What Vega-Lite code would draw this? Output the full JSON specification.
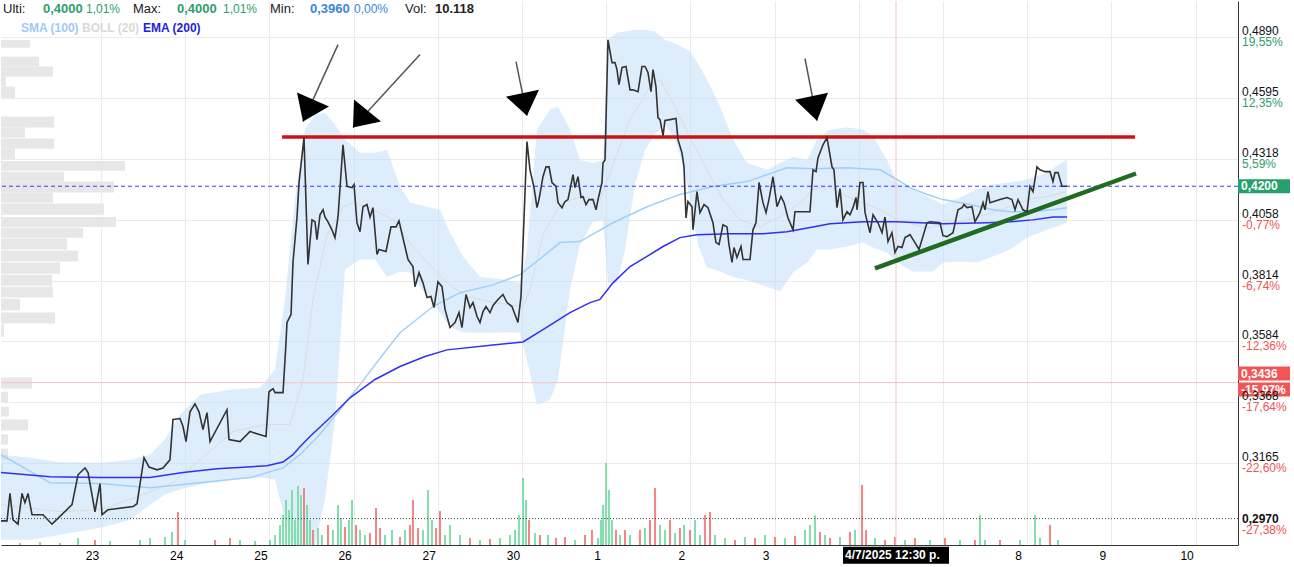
{
"$schema": "https://vega.github.io/schema/vega-lite/v6.json",
"width": 1237, "height": 544,
"autosize": {"type": "none"},
"padding": {"left": 1, "top": 1, "right": 56, "bottom": 22},
"background": "white",
"config": {"view": {"stroke": null}, "font": "Liberation Sans", "axis": {"labelFont": "Liberation Sans"}},
"datasets": {
"price": [{"t":-1.188,"p":0.2983},{"t":-1.116,"p":0.2983},{"t":-1.081,"p":0.3068},{"t":-1.045,"p":0.2986},{"t":-0.986,"p":0.2973},{"t":-0.938,"p":0.3068},{"t":-0.903,"p":0.3039},{"t":-0.867,"p":0.3068},{"t":-0.819,"p":0.3002},{"t":-0.689,"p":0.3002},{"t":-0.582,"p":0.2973},{"t":-0.344,"p":0.3033},{"t":-0.273,"p":0.3127},{"t":-0.19,"p":0.3149},{"t":-0.154,"p":0.3134},{"t":-0.071,"p":0.3011},{"t":-0.012,"p":0.3099},{"t":0.012,"p":0.3002},{"t":0.083,"p":0.3017},{"t":0.38,"p":0.3027},{"t":0.428,"p":0.3036},{"t":0.511,"p":0.3182},{"t":0.57,"p":0.3152},{"t":0.665,"p":0.3143},{"t":0.736,"p":0.3149},{"t":0.819,"p":0.3175},{"t":0.855,"p":0.3309},{"t":0.938,"p":0.3312},{"t":0.974,"p":0.3285},{"t":1.01,"p":0.3235},{"t":1.057,"p":0.3335},{"t":1.116,"p":0.3362},{"t":1.164,"p":0.3335},{"t":1.211,"p":0.3275},{"t":1.259,"p":0.3332},{"t":1.295,"p":0.3235},{"t":1.496,"p":0.3342},{"t":1.52,"p":0.3242},{"t":1.651,"p":0.3235},{"t":1.77,"p":0.3269},{"t":1.805,"p":0.3265},{"t":1.96,"p":0.3252},{"t":1.995,"p":0.3404},{"t":2.043,"p":0.3415},{"t":2.067,"p":0.3401},{"t":2.162,"p":0.3401},{"t":2.197,"p":0.3578},{"t":2.209,"p":0.3654},{"t":2.257,"p":0.3684},{"t":2.28,"p":0.3885},{"t":2.328,"p":0.407},{"t":2.352,"p":0.4216},{"t":2.411,"p":0.4414},{"t":2.458,"p":0.3877},{"t":2.506,"p":0.4058},{"t":2.542,"p":0.405},{"t":2.565,"p":0.3977},{"t":2.601,"p":0.4079},{"t":2.637,"p":0.41},{"t":2.66,"p":0.407},{"t":2.696,"p":0.405},{"t":2.743,"p":0.4017},{"t":2.779,"p":0.3985},{"t":2.815,"p":0.407},{"t":2.874,"p":0.4382},{"t":2.922,"p":0.4199},{"t":2.981,"p":0.4194},{"t":3.005,"p":0.4207},{"t":3.04,"p":0.4046},{"t":3.076,"p":0.4009},{"t":3.112,"p":0.4113},{"t":3.159,"p":0.4122},{"t":3.195,"p":0.407},{"t":3.23,"p":0.4109},{"t":3.278,"p":0.3917},{"t":3.302,"p":0.3937},{"t":3.385,"p":0.3929},{"t":3.444,"p":0.4029},{"t":3.504,"p":0.4029},{"t":3.539,"p":0.4054},{"t":3.599,"p":0.3965},{"t":3.646,"p":0.3897},{"t":3.705,"p":0.3869},{"t":3.729,"p":0.379},{"t":3.777,"p":0.3845},{"t":3.824,"p":0.3805},{"t":3.872,"p":0.3748},{"t":3.919,"p":0.3752},{"t":3.955,"p":0.371},{"t":4.002,"p":0.3809},{"t":4.05,"p":0.379},{"t":4.086,"p":0.3703},{"t":4.145,"p":0.3635},{"t":4.204,"p":0.3654},{"t":4.252,"p":0.3691},{"t":4.287,"p":0.3635},{"t":4.335,"p":0.376},{"t":4.382,"p":0.371},{"t":4.418,"p":0.3729},{"t":4.466,"p":0.3676},{"t":4.501,"p":0.3654},{"t":4.537,"p":0.3695},{"t":4.572,"p":0.3714},{"t":4.62,"p":0.3691},{"t":4.656,"p":0.3718},{"t":4.715,"p":0.3741},{"t":4.774,"p":0.376},{"t":4.822,"p":0.3729},{"t":4.881,"p":0.3714},{"t":4.952,"p":0.3654},{"t":4.988,"p":0.3752},{"t":5.059,"p":0.4396},{"t":5.095,"p":0.4271},{"t":5.143,"p":0.4194},{"t":5.178,"p":0.4109},{"t":5.202,"p":0.4143},{"t":5.249,"p":0.4241},{"t":5.285,"p":0.4284},{"t":5.321,"p":0.4284},{"t":5.356,"p":0.4216},{"t":5.404,"p":0.4199},{"t":5.428,"p":0.413},{"t":5.475,"p":0.4109},{"t":5.511,"p":0.4135},{"t":5.546,"p":0.4143},{"t":5.606,"p":0.425},{"t":5.629,"p":0.4194},{"t":5.665,"p":0.4241},{"t":5.701,"p":0.4152},{"t":5.724,"p":0.4156},{"t":5.76,"p":0.4122},{"t":5.796,"p":0.4143},{"t":5.843,"p":0.4143},{"t":5.879,"p":0.41},{"t":5.903,"p":0.4143},{"t":5.95,"p":0.4216},{"t":5.962,"p":0.4301},{"t":5.986,"p":0.4314},{"t":6.021,"p":0.4878},{"t":6.069,"p":0.4766},{"t":6.105,"p":0.4766},{"t":6.128,"p":0.4732},{"t":6.152,"p":0.466},{"t":6.188,"p":0.4742},{"t":6.235,"p":0.4747},{"t":6.283,"p":0.4635},{"t":6.318,"p":0.4635},{"t":6.378,"p":0.4626},{"t":6.425,"p":0.4747},{"t":6.461,"p":0.4747},{"t":6.496,"p":0.4718},{"t":6.532,"p":0.4626},{"t":6.556,"p":0.4732},{"t":6.591,"p":0.465},{"t":6.615,"p":0.4505},{"t":6.639,"p":0.4496},{"t":6.675,"p":0.4423},{"t":6.698,"p":0.4492},{"t":6.758,"p":0.4496},{"t":6.829,"p":0.4501},{"t":6.853,"p":0.4405},{"t":6.9,"p":0.4346},{"t":6.924,"p":0.4284},{"t":6.948,"p":0.4066},{"t":6.971,"p":0.4135},{"t":7.019,"p":0.4113},{"t":7.031,"p":0.4017},{"t":7.078,"p":0.4177},{"t":7.114,"p":0.4088},{"t":7.162,"p":0.4122},{"t":7.209,"p":0.4109},{"t":7.268,"p":0.4046},{"t":7.304,"p":0.3965},{"t":7.34,"p":0.3957},{"t":7.387,"p":0.4038},{"t":7.435,"p":0.4029},{"t":7.458,"p":0.3957},{"t":7.494,"p":0.3885},{"t":7.518,"p":0.3945},{"t":7.553,"p":0.3905},{"t":7.601,"p":0.3949},{"t":7.625,"p":0.3897},{"t":7.708,"p":0.3897},{"t":7.743,"p":0.4017},{"t":7.779,"p":0.4046},{"t":7.815,"p":0.4216},{"t":7.862,"p":0.413},{"t":7.898,"p":0.4088},{"t":7.933,"p":0.4143},{"t":7.981,"p":0.4241},{"t":8.029,"p":0.4113},{"t":8.076,"p":0.4156},{"t":8.112,"p":0.413},{"t":8.159,"p":0.4066},{"t":8.219,"p":0.4017},{"t":8.242,"p":0.4092},{"t":8.42,"p":0.4092},{"t":8.456,"p":0.4271},{"t":8.492,"p":0.4263},{"t":8.515,"p":0.4323},{"t":8.575,"p":0.4382},{"t":8.622,"p":0.4414},{"t":8.682,"p":0.4284},{"t":8.705,"p":0.4271},{"t":8.741,"p":0.4109},{"t":8.777,"p":0.419},{"t":8.812,"p":0.4058},{"t":8.86,"p":0.4092},{"t":8.895,"p":0.4079},{"t":8.931,"p":0.4109},{"t":8.967,"p":0.4152},{"t":8.979,"p":0.41},{"t":9.014,"p":0.4216},{"t":9.05,"p":0.4216},{"t":9.074,"p":0.4088},{"t":9.133,"p":0.4005},{"t":9.169,"p":0.4079},{"t":9.228,"p":0.4046},{"t":9.276,"p":0.4005},{"t":9.311,"p":0.407},{"t":9.347,"p":0.3969},{"t":9.394,"p":0.4005},{"t":9.43,"p":0.3925},{"t":9.466,"p":0.3949},{"t":9.513,"p":0.3945},{"t":9.549,"p":0.3985},{"t":9.608,"p":0.3997},{"t":9.667,"p":0.3965},{"t":9.715,"p":0.3937},{"t":9.81,"p":0.4046},{"t":9.846,"p":0.405},{"t":9.964,"p":0.4046},{"t":10.0,"p":0.3993},{"t":10.048,"p":0.3989},{"t":10.119,"p":0.4005},{"t":10.178,"p":0.41},{"t":10.226,"p":0.4109},{"t":10.249,"p":0.4122},{"t":10.285,"p":0.4109},{"t":10.344,"p":0.4113},{"t":10.38,"p":0.405},{"t":10.439,"p":0.4088},{"t":10.475,"p":0.413},{"t":10.499,"p":0.41},{"t":10.534,"p":0.4177},{"t":10.558,"p":0.413},{"t":10.677,"p":0.4143},{"t":10.76,"p":0.4152},{"t":10.819,"p":0.4143},{"t":10.855,"p":0.41},{"t":10.891,"p":0.4143},{"t":10.95,"p":0.41},{"t":10.998,"p":0.4092},{"t":11.033,"p":0.4199},{"t":11.069,"p":0.4177},{"t":11.116,"p":0.4284},{"t":11.152,"p":0.4271},{"t":11.211,"p":0.4263},{"t":11.271,"p":0.4263},{"t":11.306,"p":0.422},{"t":11.33,"p":0.4259},{"t":11.366,"p":0.4259},{"t":11.413,"p":0.42},{"t":11.473,"p":0.42}],
"sma": [{"t":-1.188,"v":0.3192},{"t":-0.606,"v":0.3102},{"t":-0.012,"v":0.3099},{"t":0.582,"v":0.3086},{"t":1.176,"v":0.3102},{"t":1.77,"v":0.3118},{"t":2.162,"v":0.3149},{"t":2.363,"v":0.3192},{"t":2.601,"v":0.3259},{"t":2.838,"v":0.3342},{"t":3.076,"v":0.3429},{"t":3.373,"v":0.3546},{"t":3.551,"v":0.3616},{"t":3.943,"v":0.3714},{"t":4.264,"v":0.3767},{"t":4.656,"v":0.3797},{"t":4.976,"v":0.3837},{"t":5.249,"v":0.3909},{"t":5.451,"v":0.3965},{"t":5.689,"v":0.3969},{"t":6.081,"v":0.4046},{"t":6.485,"v":0.4113},{"t":6.876,"v":0.4165},{"t":7.268,"v":0.4199},{"t":7.672,"v":0.422},{"t":7.981,"v":0.4259},{"t":8.147,"v":0.428},{"t":8.456,"v":0.4276},{"t":8.86,"v":0.428},{"t":9.252,"v":0.4271},{"t":9.454,"v":0.4229},{"t":9.608,"v":0.4194},{"t":9.81,"v":0.4165},{"t":10.0,"v":0.4143},{"t":10.321,"v":0.4122},{"t":10.594,"v":0.41},{"t":10.796,"v":0.4092},{"t":11.069,"v":0.4092},{"t":11.306,"v":0.41},{"t":11.473,"v":0.4109}],
"ema": [{"t":-1.188,"v":0.3134},{"t":-0.606,"v":0.3121},{"t":-0.012,"v":0.3118},{"t":0.582,"v":0.3118},{"t":0.974,"v":0.3134},{"t":1.378,"v":0.3146},{"t":1.971,"v":0.3156},{"t":2.162,"v":0.3168},{"t":2.28,"v":0.3192},{"t":2.363,"v":0.3218},{"t":2.482,"v":0.3252},{"t":2.72,"v":0.3315},{"t":2.957,"v":0.3383},{"t":3.254,"v":0.3447},{"t":3.551,"v":0.3493},{"t":3.848,"v":0.3529},{"t":4.109,"v":0.3553},{"t":4.656,"v":0.3571},{"t":5.012,"v":0.3582},{"t":5.249,"v":0.3627},{"t":5.57,"v":0.3691},{"t":5.808,"v":0.3729},{"t":5.926,"v":0.3741},{"t":6.081,"v":0.3805},{"t":6.283,"v":0.3869},{"t":6.485,"v":0.3909},{"t":6.675,"v":0.3949},{"t":6.876,"v":0.3985},{"t":7.078,"v":0.3997},{"t":7.47,"v":0.4001},{"t":7.862,"v":0.4001},{"t":8.147,"v":0.4009},{"t":8.456,"v":0.4029},{"t":8.658,"v":0.4042},{"t":9.05,"v":0.405},{"t":9.454,"v":0.405},{"t":10.0,"v":0.4042},{"t":10.523,"v":0.4046},{"t":10.796,"v":0.405},{"t":11.069,"v":0.4058},{"t":11.306,"v":0.407},{"t":11.473,"v":0.407}],
"band": [{"t":-1.188,"up":0.3192,"lo":0.2926},{"t":-0.843,"up":0.3182,"lo":0.2926},{"t":-0.487,"up":0.3168,"lo":0.2941},{"t":-0.012,"up":0.3165,"lo":0.2962},{"t":0.344,"up":0.3175,"lo":0.2986},{"t":0.582,"up":0.3192,"lo":0.3033},{"t":0.76,"up":0.3242,"lo":0.3065},{"t":0.938,"up":0.3325,"lo":0.308},{"t":1.176,"up":0.3394,"lo":0.3096},{"t":1.532,"up":0.3411,"lo":0.3112},{"t":1.888,"up":0.3418,"lo":0.3118},{"t":2.067,"up":0.3482,"lo":0.3112},{"t":2.185,"up":0.3741,"lo":0.2986},{"t":2.304,"up":0.4143,"lo":0.291},{"t":2.423,"up":0.4451,"lo":0.291},{"t":2.542,"up":0.4519,"lo":0.291},{"t":2.66,"up":0.4528,"lo":0.3049},{"t":2.779,"up":0.4473,"lo":0.3309},{"t":2.898,"up":0.4405,"lo":0.3857},{"t":3.076,"up":0.4346,"lo":0.3897},{"t":3.254,"up":0.4346,"lo":0.3897},{"t":3.397,"up":0.4359,"lo":0.3828},{"t":3.551,"up":0.4199,"lo":0.3849},{"t":3.67,"up":0.413,"lo":0.3845},{"t":3.872,"up":0.4113,"lo":0.3752},{"t":4.026,"up":0.41,"lo":0.3691},{"t":4.145,"up":0.4005,"lo":0.3638},{"t":4.299,"up":0.3909,"lo":0.3618},{"t":4.501,"up":0.3829,"lo":0.3616},{"t":4.822,"up":0.3816,"lo":0.3618},{"t":4.976,"up":0.3805,"lo":0.3616},{"t":5.059,"up":0.3937,"lo":0.3518},{"t":5.178,"up":0.4451,"lo":0.3359},{"t":5.333,"up":0.4542,"lo":0.3376},{"t":5.428,"up":0.4555,"lo":0.3447},{"t":5.57,"up":0.4451,"lo":0.3778},{"t":5.689,"up":0.4314,"lo":0.3957},{"t":5.843,"up":0.4301,"lo":0.405},{"t":5.962,"up":0.4314,"lo":0.4058},{"t":6.021,"up":0.4878,"lo":0.3805},{"t":6.128,"up":0.4913,"lo":0.3805},{"t":6.223,"up":0.492,"lo":0.3937},{"t":6.342,"up":0.4928,"lo":0.4207},{"t":6.461,"up":0.4928,"lo":0.4359},{"t":6.58,"up":0.492,"lo":0.4428},{"t":6.698,"up":0.4878,"lo":0.4473},{"t":6.817,"up":0.486,"lo":0.4405},{"t":6.912,"up":0.484,"lo":0.4293},{"t":6.995,"up":0.482,"lo":0.4143},{"t":7.09,"up":0.476,"lo":0.3957},{"t":7.197,"up":0.4684,"lo":0.3865},{"t":7.352,"up":0.4555,"lo":0.3849},{"t":7.506,"up":0.4405,"lo":0.3828},{"t":7.672,"up":0.4301,"lo":0.3816},{"t":7.91,"up":0.4271,"lo":0.379},{"t":8.064,"up":0.4301,"lo":0.3771},{"t":8.219,"up":0.4328,"lo":0.3845},{"t":8.385,"up":0.4314,"lo":0.3885},{"t":8.504,"up":0.4405,"lo":0.3937},{"t":8.658,"up":0.4451,"lo":0.3937},{"t":8.86,"up":0.446,"lo":0.3949},{"t":9.05,"up":0.4451,"lo":0.3965},{"t":9.169,"up":0.4419,"lo":0.3945},{"t":9.335,"up":0.4314,"lo":0.3925},{"t":9.454,"up":0.4216,"lo":0.3885},{"t":9.644,"up":0.4186,"lo":0.3849},{"t":9.881,"up":0.4143,"lo":0.3849},{"t":10.0,"up":0.4122,"lo":0.3885},{"t":10.202,"up":0.4152,"lo":0.3889},{"t":10.404,"up":0.4186,"lo":0.3885},{"t":10.594,"up":0.4207,"lo":0.3909},{"t":10.796,"up":0.4216,"lo":0.3937},{"t":10.998,"up":0.4229,"lo":0.3985},{"t":11.235,"up":0.4259,"lo":0.4017},{"t":11.473,"up":0.4318,"lo":0.4046}],
"mid": [{"t":-1.188,"v":0.3033},{"t":-0.487,"v":0.3011},{"t":-0.012,"v":0.3017},{"t":0.344,"v":0.3049},{"t":0.855,"v":0.3102},{"t":1.176,"v":0.3175},{"t":1.568,"v":0.3269},{"t":1.971,"v":0.3292},{"t":2.245,"v":0.3292},{"t":2.399,"v":0.3447},{"t":2.518,"v":0.3741},{"t":2.684,"v":0.3997},{"t":2.874,"v":0.4113},{"t":2.993,"v":0.413},{"t":3.195,"v":0.4109},{"t":3.468,"v":0.4058},{"t":3.67,"v":0.3965},{"t":3.872,"v":0.3885},{"t":4.109,"v":0.3805},{"t":4.347,"v":0.3752},{"t":4.656,"v":0.3729},{"t":5.012,"v":0.3714},{"t":5.095,"v":0.3778},{"t":5.249,"v":0.3997},{"t":5.451,"v":0.4122},{"t":5.689,"v":0.4156},{"t":5.926,"v":0.4143},{"t":6.081,"v":0.4293},{"t":6.283,"v":0.4496},{"t":6.52,"v":0.465},{"t":6.639,"v":0.4684},{"t":6.793,"v":0.4574},{"t":6.948,"v":0.4451},{"t":7.197,"v":0.4271},{"t":7.387,"v":0.4143},{"t":7.589,"v":0.4058},{"t":7.827,"v":0.4029},{"t":8.064,"v":0.407},{"t":8.302,"v":0.413},{"t":8.456,"v":0.4186},{"t":8.622,"v":0.4199},{"t":8.86,"v":0.4156},{"t":9.05,"v":0.413},{"t":9.252,"v":0.41},{"t":9.454,"v":0.4058},{"t":9.81,"v":0.4025},{"t":10.202,"v":0.405},{"t":10.594,"v":0.4088},{"t":10.998,"v":0.4143},{"t":11.235,"v":0.4156},{"t":11.473,"v":0.4177}],
"vol": [{"t":-0.962,"v":3.7,"d":"u"},{"t":-0.724,"v":5.5,"d":"u"},{"t":-0.487,"v":3.7,"d":"u"},{"t":-0.273,"v":12.9,"d":"u"},{"t":-0.071,"v":9.2,"d":"d"},{"t":0.107,"v":7.4,"d":"u"},{"t":0.463,"v":9.2,"d":"u"},{"t":0.582,"v":12.9,"d":"u"},{"t":0.76,"v":14.7,"d":"u"},{"t":0.843,"v":23.9,"d":"u"},{"t":0.914,"v":60.7,"d":"d"},{"t":0.998,"v":9.2,"d":"u"},{"t":1.354,"v":9.2,"d":"d"},{"t":1.532,"v":12.9,"d":"d"},{"t":1.651,"v":9.2,"d":"u"},{"t":1.829,"v":7.4,"d":"u"},{"t":2.007,"v":9.2,"d":"u"},{"t":2.067,"v":18.4,"d":"u"},{"t":2.126,"v":36.8,"d":"u"},{"t":2.162,"v":55.2,"d":"u"},{"t":2.197,"v":82.8,"d":"u"},{"t":2.233,"v":64.4,"d":"u"},{"t":2.268,"v":101.2,"d":"u"},{"t":2.304,"v":46,"d":"u"},{"t":2.34,"v":108.6,"d":"u"},{"t":2.375,"v":92,"d":"u"},{"t":2.411,"v":104.9,"d":"d"},{"t":2.447,"v":73.6,"d":"u"},{"t":2.482,"v":46,"d":"u"},{"t":2.518,"v":27.6,"d":"d"},{"t":2.577,"v":31.3,"d":"u"},{"t":2.625,"v":18.4,"d":"u"},{"t":2.696,"v":36.8,"d":"d"},{"t":2.755,"v":27.6,"d":"u"},{"t":2.815,"v":73.6,"d":"u"},{"t":2.85,"v":49.7,"d":"u"},{"t":2.898,"v":33.1,"d":"d"},{"t":2.945,"v":46,"d":"u"},{"t":2.981,"v":82.8,"d":"u"},{"t":3.029,"v":36.8,"d":"d"},{"t":3.076,"v":27.6,"d":"u"},{"t":3.135,"v":18.4,"d":"u"},{"t":3.195,"v":22.1,"d":"d"},{"t":3.266,"v":68.1,"d":"d"},{"t":3.314,"v":31.3,"d":"d"},{"t":3.373,"v":18.4,"d":"u"},{"t":3.456,"v":27.6,"d":"u"},{"t":3.551,"v":14.7,"d":"d"},{"t":3.61,"v":27.6,"d":"u"},{"t":3.67,"v":36.8,"d":"d"},{"t":3.705,"v":82.8,"d":"d"},{"t":3.765,"v":31.3,"d":"d"},{"t":3.824,"v":27.6,"d":"u"},{"t":3.884,"v":101.2,"d":"u"},{"t":3.931,"v":46,"d":"u"},{"t":3.979,"v":31.3,"d":"d"},{"t":4.026,"v":62.6,"d":"d"},{"t":4.086,"v":18.4,"d":"u"},{"t":4.145,"v":36.8,"d":"u"},{"t":4.264,"v":18.4,"d":"u"},{"t":4.382,"v":12.9,"d":"d"},{"t":4.501,"v":9.2,"d":"u"},{"t":4.62,"v":11,"d":"d"},{"t":4.739,"v":12.9,"d":"u"},{"t":4.857,"v":18.4,"d":"u"},{"t":4.917,"v":27.6,"d":"u"},{"t":4.964,"v":55.2,"d":"u"},{"t":5.012,"v":123.3,"d":"u"},{"t":5.048,"v":82.8,"d":"u"},{"t":5.083,"v":46,"d":"d"},{"t":5.154,"v":22.1,"d":"u"},{"t":5.214,"v":18.4,"d":"d"},{"t":5.309,"v":18.4,"d":"u"},{"t":5.404,"v":12.9,"d":"d"},{"t":5.511,"v":14.7,"d":"d"},{"t":5.629,"v":9.2,"d":"u"},{"t":5.748,"v":18.4,"d":"d"},{"t":5.831,"v":27.6,"d":"d"},{"t":5.903,"v":12.9,"d":"u"},{"t":5.938,"v":46,"d":"u"},{"t":5.962,"v":73.6,"d":"u"},{"t":5.998,"v":150.9,"d":"u"},{"t":6.033,"v":101.2,"d":"u"},{"t":6.069,"v":46,"d":"u"},{"t":6.116,"v":27.6,"d":"d"},{"t":6.164,"v":18.4,"d":"u"},{"t":6.223,"v":27.6,"d":"d"},{"t":6.283,"v":18.4,"d":"u"},{"t":6.401,"v":27.6,"d":"d"},{"t":6.461,"v":31.3,"d":"u"},{"t":6.52,"v":46,"d":"d"},{"t":6.58,"v":104.9,"d":"d"},{"t":6.639,"v":36.8,"d":"u"},{"t":6.698,"v":27.6,"d":"u"},{"t":6.758,"v":46,"d":"d"},{"t":6.817,"v":22.1,"d":"u"},{"t":6.876,"v":31.3,"d":"d"},{"t":6.924,"v":36.8,"d":"u"},{"t":6.995,"v":27.6,"d":"d"},{"t":7.055,"v":46,"d":"u"},{"t":7.114,"v":18.4,"d":"u"},{"t":7.173,"v":55.2,"d":"d"},{"t":7.233,"v":60.7,"d":"d"},{"t":7.292,"v":18.4,"d":"u"},{"t":7.411,"v":12.9,"d":"u"},{"t":7.53,"v":9.2,"d":"d"},{"t":7.648,"v":14.7,"d":"u"},{"t":7.767,"v":12.9,"d":"d"},{"t":7.886,"v":18.4,"d":"u"},{"t":8.005,"v":14.7,"d":"d"},{"t":8.124,"v":12.9,"d":"u"},{"t":8.242,"v":16.6,"d":"d"},{"t":8.361,"v":27.6,"d":"u"},{"t":8.42,"v":36.8,"d":"u"},{"t":8.48,"v":55.2,"d":"u"},{"t":8.539,"v":23.9,"d":"d"},{"t":8.599,"v":18.4,"d":"u"},{"t":8.658,"v":12.9,"d":"d"},{"t":8.777,"v":14.7,"d":"u"},{"t":8.895,"v":23.9,"d":"d"},{"t":8.955,"v":27.6,"d":"u"},{"t":9.038,"v":110.4,"d":"d"},{"t":9.086,"v":27.6,"d":"d"},{"t":9.192,"v":12.9,"d":"u"},{"t":9.311,"v":9.2,"d":"d"},{"t":9.43,"v":14.7,"d":"d"},{"t":9.549,"v":9.2,"d":"u"},{"t":9.667,"v":12.9,"d":"d"},{"t":9.846,"v":9.2,"d":"u"},{"t":10.024,"v":12.9,"d":"d"},{"t":10.202,"v":9.2,"d":"u"},{"t":10.38,"v":9.2,"d":"d"},{"t":10.439,"v":55.2,"d":"u"},{"t":10.499,"v":9.2,"d":"u"},{"t":10.677,"v":9.2,"d":"d"},{"t":10.914,"v":9.2,"d":"u"},{"t":11.093,"v":55.2,"d":"u"},{"t":11.152,"v":12.9,"d":"u"},{"t":11.271,"v":36.8,"d":"d"},{"t":11.366,"v":9.2,"d":"u"}],
"prof": [{"hi":0.4878,"lo":0.4839,"pv":14.5},{"hi":0.4795,"lo":0.4747,"pv":19},{"hi":0.4747,"lo":0.4698,"pv":26},{"hi":0.4698,"lo":0.465,"pv":2.5},{"hi":0.465,"lo":0.4597,"pv":7},{"hi":0.451,"lo":0.446,"pv":26.5},{"hi":0.446,"lo":0.4414,"pv":12},{"hi":0.441,"lo":0.4364,"pv":26.5},{"hi":0.4364,"lo":0.4318,"pv":7},{"hi":0.431,"lo":0.4267,"pv":62},{"hi":0.4263,"lo":0.422,"pv":31.5},{"hi":0.422,"lo":0.4173,"pv":56.5},{"hi":0.4173,"lo":0.413,"pv":26},{"hi":0.4126,"lo":0.4079,"pv":51.5},{"hi":0.407,"lo":0.4029,"pv":57.5},{"hi":0.4025,"lo":0.3985,"pv":41},{"hi":0.3981,"lo":0.3937,"pv":33},{"hi":0.3933,"lo":0.3889,"pv":38.5},{"hi":0.3885,"lo":0.3841,"pv":29.5},{"hi":0.3837,"lo":0.3794,"pv":25.5},{"hi":0.379,"lo":0.3748,"pv":26},{"hi":0.3744,"lo":0.3699,"pv":9.5},{"hi":0.3691,"lo":0.365,"pv":27},{"hi":0.3646,"lo":0.3601,"pv":1.5},{"hi":0.3454,"lo":0.3415,"pv":15.5},{"hi":0.3404,"lo":0.3365,"pv":3.5},{"hi":0.3352,"lo":0.3319,"pv":4},{"hi":0.3309,"lo":0.3272,"pv":13.5},{"hi":0.3259,"lo":0.3225,"pv":3.5},{"hi":0.3212,"lo":0.3175,"pv":3.5},{"hi":0.3165,"lo":0.3134,"pv":1}],
"arrows": [{"id":"a1","t0":2.815,"p0":0.4854,"t1":2.399,"p1":0.4487},{"id":"a2","t0":3.789,"p0":0.4805,"t1":2.993,"p1":0.446},{"id":"a3","t0":4.929,"p0":0.4771,"t1":5.059,"p1":0.4514},{"id":"a4","t0":8.361,"p0":0.4786,"t1":8.504,"p1":0.4491}],
"ylab": [{"p":0.489,"a":"0,4890","b":"19,55%","s":"pos"},{"p":0.4595,"a":"0,4595","b":"12,35%","s":"pos"},{"p":0.4318,"a":"0,4318","b":"5,59%","s":"pos"},{"p":0.4058,"a":"0,4058","b":"-0,77%","s":"neg"},{"p":0.3814,"a":"0,3814","b":"-6,74%","s":"neg"},{"p":0.3584,"a":"0,3584","b":"-12,36%","s":"neg"},{"p":0.3368,"a":"0,3368","b":"-17,64%","s":"neg"},{"p":0.3165,"a":"0,3165","b":"-22,60%","s":"neg"}],
"tags": [{"id":"g","t":13.5036,"p":0.42},{"id":"r1","t":13.5036,"p":0.3436},{"id":"r2","t":13.5036,"p":0.3436},{"id":"dt","t":9.442,"p":0.288}],
"header": [{"t":-1.164,"p":0.5035,"txt":"Ulti:","c":"k","w":"lab"},{"t":-0.689,"p":0.5035,"txt":"0,4000","c":"g","w":"val"},{"t":-0.178,"p":0.5035,"txt":"1,01%","c":"g","w":"pct"},{"t":0.38,"p":0.5035,"txt":"Max:","c":"k","w":"lab"},{"t":0.903,"p":0.5035,"txt":"0,4000","c":"g","w":"val"},{"t":1.449,"p":0.5035,"txt":"1,01%","c":"g","w":"pct"},{"t":2.007,"p":0.5035,"txt":"Min:","c":"k","w":"lab"},{"t":2.482,"p":0.5035,"txt":"0,3960","c":"b","w":"val"},{"t":3.005,"p":0.5035,"txt":"0,00%","c":"b","w":"pct"},{"t":3.61,"p":0.5035,"txt":"Vol:","c":"k","w":"lab"},{"t":3.967,"p":0.5035,"txt":"10.118","c":"k","w":"val"},{"t":-0.95,"p":0.494,"txt":"SMA (100)","c":"s","w":"leg"},{"t":-0.226,"p":0.494,"txt":"BOLL (20)","c":"o","w":"leg"},{"t":0.499,"p":0.494,"txt":"EMA (200)","c":"e","w":"leg"}]
},
"resolve": {"scale": {"x": "independent", "y": "independent"}},
"layer": [
{"data": {"name": "prof"}, "mark": {"type": "rect", "color": "#e7e7e7"},
 "encoding": {"x": {"field": "pv", "type": "quantitative", "scale": {"domain": [0, 618.5], "nice": false, "zero": false}, "axis": null}, "x2": {"datum": 0},
  "y": {"field": "lo", "type": "quantitative", "scale": {"type": "log", "domain": [0.29104, 0.50757], "nice": false}, "axis": null}, "y2": {"field": "hi"}}},
{"layer": [
 {"data": {"name": "band"}, "mark": {"type": "area", "color": "#bcdcf8", "opacity": 0.5},
  "encoding": {"x": {"field": "t", "type": "quantitative", "scale": {"domain": [-1.1876, 13.5036], "nice": false, "zero": false}, "axis": null},
   "y": {"field": "up", "type": "quantitative", "scale": {"type": "log", "domain": [0.29104, 0.50757], "nice": false}, "axis": null}, "y2": {"field": "lo"}}},
 {"data": {"name": "mid"}, "mark": {"type": "line", "color": "#dcdcdc", "strokeWidth": 1},
  "encoding": {"x": {"field": "t", "type": "quantitative", "axis": null}, "y": {"field": "v", "type": "quantitative", "axis": null}}}
]},
{"data": {"name": "vol"}, "mark": {"type": "rule", "strokeWidth": 2, "opacity": 0.9},
 "encoding": {"x": {"field": "t", "type": "quantitative", "scale": {"domain": [-1.1876, 13.5036], "nice": false, "zero": false}, "axis": null},
  "y": {"field": "v", "type": "quantitative", "scale": {"domain": [0, 1001], "nice": false}, "axis": null}, "y2": {"datum": 0},
  "color": {"field": "d", "type": "nominal", "scale": {"domain": ["u", "d"], "range": ["#74dba2", "#f37878"]}, "legend": null}}},
{"resolve": {"scale": {"color": "independent", "shape": "independent"}},
 "layer": [
 {"data": {"name": "sma"}, "mark": {"type": "line", "color": "#9fd0f7", "strokeWidth": 1.5},
  "encoding": {"x": {"field": "t", "type": "quantitative", "scale": {"domain": [-1.1876, 13.5036], "nice": false, "zero": false}, "axis": null},
   "y": {"field": "v", "type": "quantitative", "scale": {"type": "log", "domain": [0.29104, 0.50757], "nice": false}, "axis": null}}},
 {"data": {"values": [{"t": 9.442}]}, "mark": {"type": "rule", "color": "#f7c4c4", "strokeWidth": 1},
  "encoding": {"x": {"field": "t", "type": "quantitative", "axis": null}}},
 {"data": {"values": [{"p": 0.3436}]}, "mark": {"type": "rule", "color": "#f7c4c4", "strokeWidth": 1},
  "encoding": {"y": {"field": "p", "type": "quantitative", "axis": null}}},
 {"data": {"values": [{"p": 0.299}]}, "mark": {"type": "rule", "color": "#444444", "strokeWidth": 1, "strokeDash": [1, 2]},
  "encoding": {"y": {"field": "p", "type": "quantitative", "axis": null}}},
 {"data": {"values": [{"p": 0.42}]}, "mark": {"type": "rule", "color": "#3b3bff", "strokeWidth": 1, "strokeDash": [4, 3]},
  "encoding": {"y": {"field": "p", "type": "quantitative", "axis": null}}},
 {"data": {"name": "ema"}, "mark": {"type": "line", "color": "#3030f0", "strokeWidth": 1.5},
  "encoding": {"x": {"field": "t", "type": "quantitative", "axis": null}, "y": {"field": "v", "type": "quantitative", "axis": null}}},
 {"data": {"values": [{"t1": 2.15, "t2": 12.28, "p": 0.4417}]}, "mark": {"type": "rule", "color": "#cc1414", "strokeWidth": 3.5},
  "encoding": {"x": {"field": "t1", "type": "quantitative", "axis": null}, "x2": {"field": "t2"}, "y": {"field": "p", "type": "quantitative", "axis": null}}},
 {"data": {"values": [{"t1": 9.192, "p1": 0.3862, "t2": 12.292, "p2": 0.4255}]}, "mark": {"type": "rule", "color": "#216b21", "strokeWidth": 4.5},
  "encoding": {"x": {"field": "t1", "type": "quantitative", "axis": null}, "x2": {"field": "t2"}, "y": {"field": "p1", "type": "quantitative", "axis": null}, "y2": {"field": "p2"}}},
 {"data": {"name": "arrows"}, "mark": {"type": "rule", "color": "#555555", "strokeWidth": 1.5},
  "encoding": {"x": {"field": "t0", "type": "quantitative", "axis": null}, "x2": {"field": "t1"}, "y": {"field": "p0", "type": "quantitative", "axis": null}, "y2": {"field": "p1"}}},
 {"data": {"name": "arrows"}, "mark": {"type": "point", "filled": true, "size": 4, "opacity": 1, "color": "#000000", "strokeWidth": 0},
  "encoding": {"x": {"field": "t1", "type": "quantitative", "axis": null}, "y": {"field": "p1", "type": "quantitative", "axis": null},
   "shape": {"field": "id", "type": "nominal", "scale": {"domain": ["a1","a2","a3","a4"], "range": ["M0,0L-6,-29L26,-15Z", "M0,0L1,-28L28,-6Z", "M0,0L-21,-19L12,-26Z", "M0,0L-22,-21L11,-28Z"]}, "legend": null}}},
 {"data": {"name": "tags"}, "mark": {"type": "point", "filled": true, "size": 4, "opacity": 1, "strokeWidth": 0},
  "encoding": {"x": {"field": "t", "type": "quantitative", "axis": null}, "y": {"field": "p", "type": "quantitative", "axis": null},
   "shape": {"field": "id", "type": "nominal", "scale": {"domain": ["g","r1","r2","dt"], "range": ["M0,-7L52,-7L52,7L0,7Z", "M0,-16L52,-16L52,-2L0,-2Z", "M0,0L52,0L52,14L0,14Z", "M-53,-8.5L53,-8.5L53,8.5L-53,8.5Z"]}, "legend": null},
   "color": {"field": "id", "type": "nominal", "scale": {"domain": ["g","r1","r2","dt"], "range": ["#26a06e", "#f25555", "#f25555", "#000000"]}, "legend": null}}},
 {"data": {"values": [{"t": 13.5036, "p": 0.42, "txt": "0,4200"}]}, "mark": {"type": "text", "align": "left", "baseline": "middle", "dx": 3, "fontSize": 12, "fontWeight": "bold", "color": "#ffffff"},
  "encoding": {"x": {"field": "t", "type": "quantitative", "axis": null}, "y": {"field": "p", "type": "quantitative", "axis": null}, "text": {"field": "txt"}}},
 {"data": {"values": [{"t": 13.5036, "p": 0.3436, "txt": "0,3436"}]}, "mark": {"type": "text", "align": "left", "baseline": "middle", "dx": 3, "dy": -9, "fontSize": 12, "fontWeight": "bold", "color": "#ffffff"},
  "encoding": {"x": {"field": "t", "type": "quantitative", "axis": null}, "y": {"field": "p", "type": "quantitative", "axis": null}, "text": {"field": "txt"}}},
 {"data": {"values": [{"t": 13.5036, "p": 0.3436, "txt": "-15,97%"}]}, "mark": {"type": "text", "align": "left", "baseline": "middle", "dx": 3, "dy": 7, "fontSize": 12, "fontWeight": "bold", "color": "#ffffff"},
  "encoding": {"x": {"field": "t", "type": "quantitative", "axis": null}, "y": {"field": "p", "type": "quantitative", "axis": null}, "text": {"field": "txt"}}},
 {"data": {"values": [{"t": 9.442, "p": 0.288, "txt": "4/7/2025 12:30 p."}]}, "mark": {"type": "text", "align": "left", "baseline": "middle", "dx": -51, "fontSize": 12, "fontWeight": "bold", "color": "#ffffff"},
  "encoding": {"x": {"field": "t", "type": "quantitative", "axis": null}, "y": {"field": "p", "type": "quantitative", "axis": null}, "text": {"field": "txt"}}},
 {"data": {"name": "ylab"}, "mark": {"type": "text", "align": "left", "baseline": "middle", "dx": 4, "dy": -6, "fontSize": 12, "color": "#111111"},
  "encoding": {"x": {"datum": 13.5036, "type": "quantitative", "axis": null}, "y": {"field": "p", "type": "quantitative", "axis": null}, "text": {"field": "a"}}},
 {"data": {"name": "ylab"}, "mark": {"type": "text", "align": "left", "baseline": "middle", "dx": 4, "dy": 5, "fontSize": 12},
  "encoding": {"x": {"datum": 13.5036, "type": "quantitative", "axis": null}, "y": {"field": "p", "type": "quantitative", "axis": null}, "text": {"field": "b"},
   "color": {"field": "s", "type": "nominal", "scale": {"domain": ["pos","neg"], "range": ["#2e9e6e", "#f05555"]}, "legend": null}}},
 {"data": {"values": [{"p": 0.299, "a": "0,2970", "b": "-27,38%"}]}, "mark": {"type": "text", "align": "left", "baseline": "middle", "dx": 4, "fontSize": 12, "fontWeight": "bold", "color": "#111111"},
  "encoding": {"x": {"datum": 13.5036, "type": "quantitative", "axis": null}, "y": {"field": "p", "type": "quantitative", "axis": null}, "text": {"field": "a"}}},
 {"data": {"values": [{"p": 0.299, "a": "0,2970", "b": "-27,38%"}]}, "mark": {"type": "text", "align": "left", "baseline": "middle", "dx": 4, "dy": 11, "fontSize": 12, "color": "#f05555"},
  "encoding": {"x": {"datum": 13.5036, "type": "quantitative", "axis": null}, "y": {"field": "p", "type": "quantitative", "axis": null}, "text": {"field": "b"}}},
 {"data": {"name": "header"}, "transform": [{"filter": "datum.w == 'lab'"}], "mark": {"type": "text", "align": "left", "baseline": "middle", "fontSize": 13, "color": "#222222"},
  "encoding": {"x": {"field": "t", "type": "quantitative", "axis": null}, "y": {"field": "p", "type": "quantitative", "axis": null}, "text": {"field": "txt"}}},
 {"data": {"name": "header"}, "transform": [{"filter": "datum.w == 'val'"}], "mark": {"type": "text", "align": "left", "baseline": "middle", "fontSize": 13, "fontWeight": "bold"},
  "encoding": {"x": {"field": "t", "type": "quantitative", "axis": null}, "y": {"field": "p", "type": "quantitative", "axis": null}, "text": {"field": "txt"},
   "color": {"field": "c", "type": "nominal", "scale": {"domain": ["k","g","b"], "range": ["#222222","#2e9e6e","#3a87d8"]}, "legend": null}}},
 {"data": {"name": "header"}, "transform": [{"filter": "datum.w == 'pct'"}], "mark": {"type": "text", "align": "left", "baseline": "middle", "fontSize": 12},
  "encoding": {"x": {"field": "t", "type": "quantitative", "axis": null}, "y": {"field": "p", "type": "quantitative", "axis": null}, "text": {"field": "txt"},
   "color": {"field": "c", "type": "nominal", "scale": {"domain": ["g","b"], "range": ["#2e9e6e","#3a87d8"]}, "legend": null}}},
 {"data": {"name": "header"}, "transform": [{"filter": "datum.w == 'leg'"}], "mark": {"type": "text", "align": "left", "baseline": "middle", "fontSize": 12, "fontWeight": "bold"},
  "encoding": {"x": {"field": "t", "type": "quantitative", "axis": null}, "y": {"field": "p", "type": "quantitative", "axis": null}, "text": {"field": "txt"},
   "color": {"field": "c", "type": "nominal", "scale": {"domain": ["s","o","e"], "range": ["#9ccbf5","#d9d9d9","#1f1fe0"]}, "legend": null}}}
]},
{"data": {"name": "price"}, "mark": {"type": "line", "color": "#333333", "strokeWidth": 1.6},
 "encoding": {"x": {"field": "t", "type": "quantitative", "scale": {"domain": [-1.1876, 13.5036], "nice": false, "zero": false},
   "axis": {"values": [0,1,2,3,4,5,6,7,8,9,10,11,12,13], "labelExpr": "['23','24','25','26','27','30','1','2','3','','','8','9','10'][datum.value]", "labelOffset": -9, "grid": true, "gridColor": "#ebebeb", "ticks": false, "domainColor": "#333333", "labelColor": "#000000", "labelFontSize": 12, "labelPadding": 5, "labelOverlap": false, "labelBound": false, "labelFlush": false, "title": null}},
  "y": {"field": "p", "type": "quantitative", "scale": {"type": "log", "domain": [0.29104, 0.50757], "nice": false},
   "axis": {"orient": "right", "values": [0.3165, 0.3368, 0.3584, 0.3814, 0.4058, 0.4318, 0.4595, 0.489], "labels": false, "ticks": false, "grid": true, "gridColor": "#ebebeb", "domainColor": "#333333", "title": null}}}}
]
}
